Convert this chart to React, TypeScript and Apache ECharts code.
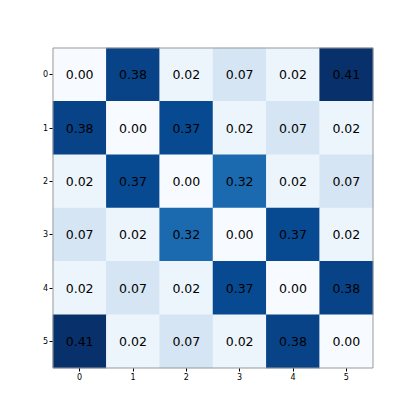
import React, { useEffect, useRef } from "react";
import * as echarts from "echarts";

const rowLabels = ["0", "1", "2", "3", "4", "5"];
const colLabels = ["0", "1", "2", "3", "4", "5"];
const matrix: number[][] = [
  [0.0, 0.38, 0.02, 0.07, 0.02, 0.41],
  [0.38, 0.0, 0.37, 0.02, 0.07, 0.02],
  [0.02, 0.37, 0.0, 0.32, 0.02, 0.07],
  [0.07, 0.02, 0.32, 0.0, 0.37, 0.02],
  [0.02, 0.07, 0.02, 0.37, 0.0, 0.38],
  [0.41, 0.02, 0.07, 0.02, 0.38, 0.0],
];
const blues = ["#f7fbff", "#deebf7", "#c6dbef", "#9ecae1", "#6baed6", "#4292c6", "#2171b5", "#08519c", "#08306b"];

export default function App() {
  const ref = useRef<HTMLDivElement>(null);
  useEffect(() => {
    if (!ref.current) return;
    const chart = echarts.init(ref.current, undefined, { renderer: "svg" });
    const data: [number, number, number][] = [];
    matrix.forEach((row, r) => row.forEach((v, c) => data.push([c, r, v])));
    const font = "DejaVu Sans";
    chart.setOption({
      animation: false,
      backgroundColor: "#ffffff",
      grid: { left: 53, top: 48, width: 320, height: 320, show: true, borderColor: "#999999", borderWidth: 1, backgroundColor: "transparent", z: 10 },
      xAxis: {
        type: "category",
        data: colLabels,
        position: "bottom",
        axisLine: { show: false },
        axisTick: { show: true, alignWithLabel: true, length: 3.5, lineStyle: { color: "#000" } },
        axisLabel: { fontSize: 8, color: "#000", fontFamily: font, margin: 5 },
        splitLine: { show: false },
      },
      yAxis: {
        type: "category",
        data: rowLabels,
        inverse: true,
        axisLine: { show: false },
        axisTick: { show: true, alignWithLabel: true, length: 3.5, lineStyle: { color: "#000" } },
        axisLabel: { fontSize: 8, color: "#000", fontFamily: font, margin: 5 },
        splitLine: { show: false },
      },
      visualMap: { show: false, min: 0, max: 0.41, inRange: { color: blues }, dimension: 2 },
      series: [
        {
          type: "heatmap",
          data,
          label: {
            show: true,
            color: "#000",
            fontSize: 12.5,
            fontFamily: font,
            formatter: (p: any) => p.value[2].toFixed(2),
          },
        },
      ],
    });
    return () => chart.dispose();
  }, []);
  return <div ref={ref} style={{ position: "fixed", left: 0, top: 0, width: 415, height: 415 }} />;
}
